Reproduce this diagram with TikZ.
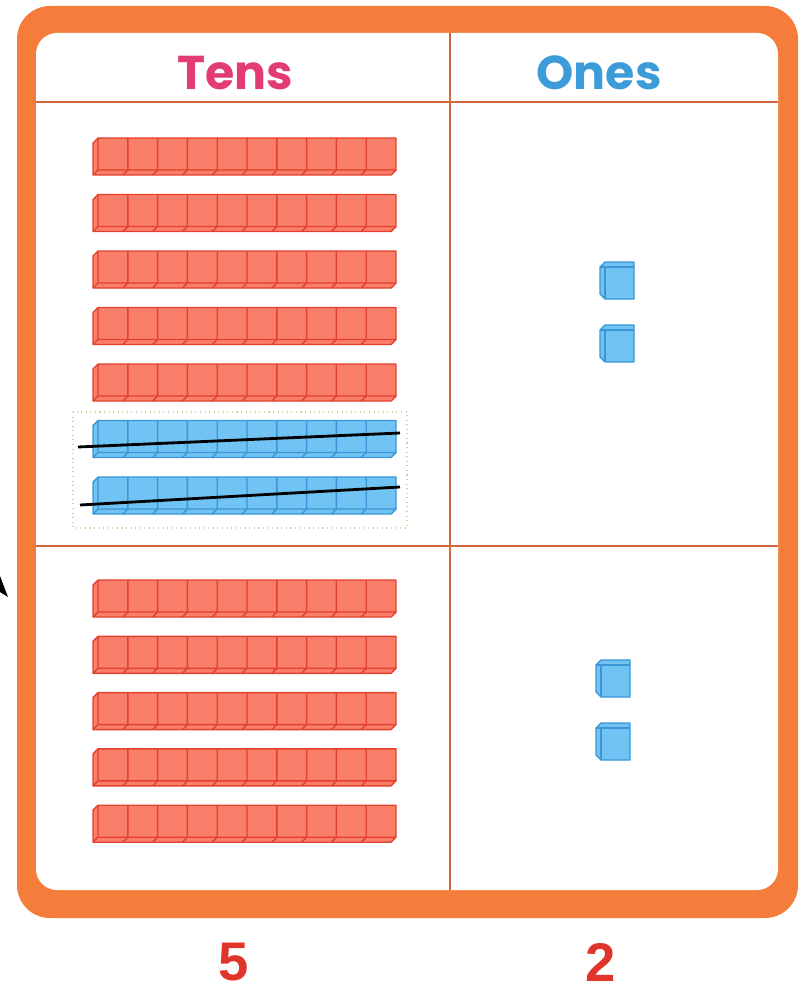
\documentclass[tikz,border=0pt]{standalone}
\usepackage{tikz,xcolor}
\usepackage{fontspec}
\newfontfamily\headfont{Poppins}
\newfontfamily\numfont{Liberation Sans}
\definecolor{frameorange}{HTML}{F47D3B}
\definecolor{gridline}{HTML}{D2683A}
\definecolor{tenspink}{HTML}{E23C72}
\definecolor{onesblue}{HTML}{3C9BD8}
\definecolor{rodfill}{HTML}{F97F6B}
\definecolor{rodline}{HTML}{E3402E}
\definecolor{cubefill}{HTML}{70C3F2}
\definecolor{cubeline}{HTML}{3A96D6}
\definecolor{numred}{HTML}{E0352B}
\definecolor{boxline}{HTML}{D6CF9E}

\begin{document}
\begin{tikzpicture}[x=0.02cm,y=-0.02cm, line join=round,
  head/.style={font=\headfont\bfseries\fontsize{27}{30}\selectfont},
  count/.style={font=\numfont\bfseries\fontsize{31}{33}\selectfont,text=numred,inner sep=0pt},
  redrod/.style={fill=rodfill,draw=rodline,line width=0.8pt},
  bluerod/.style={fill=cubefill,draw=cubeline,line width=0.8pt},
  rod/.pic={
    \draw[pic actions] (0,5)--(5,0)--(303,0)--(303,32)--(298,37)--(0,37)--cycle;
    \draw[pic actions,fill=none] (5,0)--(5,32)--(303,32) (5,32)--(0,37);
    \foreach \i in {1,...,9}
      \draw[pic actions,fill=none] (5+29.8*\i,0)--(5+29.8*\i,32)--++(-5,5);
  },
  cube/.pic={
    \draw[pic actions] (0,5)--(5,0)--(34,0)--(34,37)--(5,37)--(0,32)--cycle;
    \draw[pic actions,fill=none] (0,5)--(34,5) (5,5)--(5,37);
  }]
\useasboundingbox (0,0) rectangle (808,993);

% frame
\fill[frameorange,rounded corners=0.66cm] (17,6) rectangle (798,918);
\fill[white,rounded corners=0.42cm] (36,33) rectangle (778,890);
\draw[gridline,line width=1.1pt] (36,102)--(778,102) (36,546)--(778,546) (450,33)--(450,890);
\fill[black] (0,576)--(8,597)--(0,592)--cycle;

% headings
\node[head,text=tenspink] (tens) at (235,73) {Tens};
\node[head,text=onesblue] (ones) at (599,73) {Ones};

% tens column, upper part
\foreach \y in {138,194.5,251,307.5,364}
  \pic[redrod] at (93,\y) {rod};
\foreach \y in {420.5,477}
  \pic[bluerod] at (93,\y) {rod};
\draw[boxline,dotted,line width=0.6pt] (73,412) rectangle (407,528);
\draw[black,line width=1.6pt] (78,447)--(400,433) (80,505)--(400,487);

% tens column, lower part
\foreach \y in {580,636.3,692.6,748.9,805.2}
  \pic[redrod] at (93,\y) {rod};

% ones column
\foreach \x/\y in {600/262,600/325,596/660,596/723}
  \pic[bluerod] at (\x,\y) {cube};

% digits
\node[count] (five) at (234,962) {5};
\node[count] (two) at (601,962) {2};
\end{tikzpicture}
\end{document}
